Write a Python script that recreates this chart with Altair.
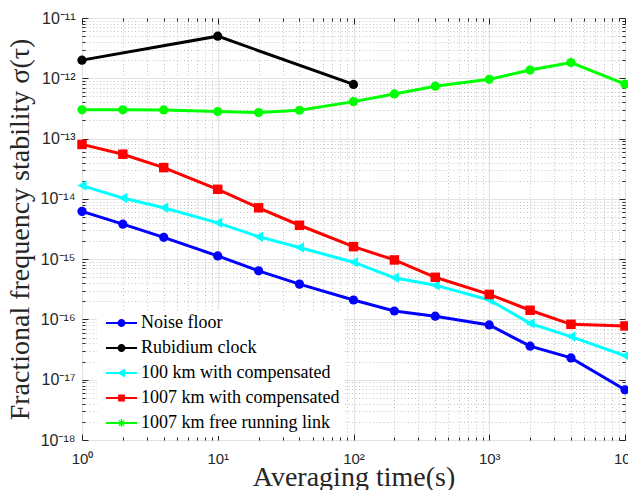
import math
import altair as alt
import pandas as pd

# ---------------- data ----------------
series = ["Noise floor", "Rubidium clock", "100 km with compensated",
          "1007 km with compensated", "1007 km free running link"]
colors = ["#0000ff", "#000000", "#00ffff", "#ff0000", "#00ff00"]

tau = [1, 2, 4, 10, 20, 40, 100, 200, 400, 1000, 2000, 4000, 10000]
tau_rb = [1, 10, 100]

noise_floor = [6.2e-15, 3.8e-15, 2.3e-15, 1.13e-15, 6.4e-16, 3.85e-16, 2.1e-16,
               1.38e-16, 1.13e-16, 8.1e-17, 3.6e-17, 2.3e-17, 6.8e-18]
rubidium = [2.0e-12, 5.0e-12, 7.9e-13]
comp_100 = [1.66e-14, 1.03e-14, 7.1e-15, 4.0e-15, 2.36e-15, 1.56e-15, 8.9e-16,
            4.9e-16, 3.7e-16, 2.1e-16, 8.6e-17, 5.2e-17, 2.5e-17]
comp_1007 = [8.0e-14, 5.5e-14, 3.3e-14, 1.44e-14, 7.1e-15, 3.65e-15, 1.61e-15,
             9.7e-16, 5.0e-16, 2.6e-16, 1.42e-16, 8.3e-17, 7.8e-17]
free_1007 = [3.0e-13, 3.0e-13, 2.98e-13, 2.8e-13, 2.7e-13, 2.95e-13, 4.1e-13,
             5.5e-13, 7.4e-13, 9.6e-13, 1.37e-12, 1.82e-12, 8.0e-13]

x_ticks_major = [1, 10, 100, 1000, 10000]
y_ticks_major = [1e-18, 1e-17, 1e-16, 1e-15, 1e-14, 1e-13, 1e-12, 1e-11]

rows = []
for name, xs, ys in [(series[0], tau, noise_floor), (series[1], tau_rb, rubidium),
                     (series[2], tau, comp_100), (series[3], tau, comp_1007),
                     (series[4], tau, free_1007)]:
    for t, v in zip(xs, ys):
        rows.append({"series": name, "tau": t, "sigma": v})
df = pd.DataFrame(rows)

x_vals = [m * d for d in x_ticks_major[:-1] for m in range(1, 10)] + [x_ticks_major[-1]]
y_vals = [m * d for d in y_ticks_major[:-1] for m in range(1, 10)] + [y_ticks_major[-1]]

# ---------------- legend symbols (line + marker) ----------------
CX = 2.875


def line_part():
    return "M-1,-0.25H6.75V0.25H-1Z"


def circle(r=1.0):
    return (f"M{CX - r},0A{r},{r} 0 1,1 {CX + r},0"
            f"A{r},{r} 0 1,1 {CX - r},0Z")


def tri_left():
    return f"M{CX - 1.15},0L{CX + 0.9},-1.15L{CX + 0.9},1.15Z"


def square(h=0.85):
    return f"M{CX - h},{-h}H{CX + h}V{h}H{CX - h}Z"


def asterisk(L=1.0, t=0.16):
    parts = []
    for ang in [0, 45, 90, 135]:
        a = math.radians(ang)
        ca, sa = math.cos(a), math.sin(a)
        pts = [(-L, -t), (L, -t), (L, t), (-L, t)]
        rp = [(CX + x * ca - y * sa, x * sa + y * ca) for x, y in pts]
        parts.append("M" + "L".join(f"{x:.3f},{y:.3f}" for x, y in rp) + "Z")
    return "".join(parts)


legend_shapes = [line_part() + circle(), line_part() + circle(),
                 line_part() + tri_left(), line_part() + square(),
                 line_part() + asterisk()]

LOG = "log(datum.value)/LN10"
MAJOR = f"abs({LOG} - round({LOG})) < 0.001"
SUP = "['⁰','¹','²','³','⁴','⁵','⁶','⁷','⁸','⁹']"
INK = "#262626"

grid_kw = dict(
    gridColor={"condition": {"test": MAJOR, "value": "#e3e3e3"}, "value": "#b4b4b4"},
    gridDash={"condition": {"test": MAJOR, "value": [1, 0]}, "value": [1, 2.5]},
    gridWidth={"condition": {"test": MAJOR, "value": 1.2}, "value": 0.8},
)

x_axis = alt.Axis(
    values=x_vals, title="Averaging time(s)", orient="bottom",
    labelExpr=f"{MAJOR} ? '10' + {SUP}[round({LOG})] : ''",
    labelOverlap=False, labelFlush=False, labelFont="Liberation Sans", labelFontSize=15,
    labelColor=INK, labelPadding=11, ticks=False, domain=False,
    titleFont="Liberation Serif", titleFontSize=28, titleFontWeight="normal",
    titleColor=INK, titleBaseline="alphabetic", titleY=45,
    **grid_kw,
)
y_axis = alt.Axis(
    values=y_vals, title="Fractional frequency stability σ(τ)", orient="left",
    labelExpr=f"{MAJOR} ? '10⁻¹' + {SUP}[-round({LOG}) - 10] : ''",
    labelOverlap=False, labelFont="Liberation Sans", labelFontSize=16,
    labelColor=INK, labelPadding=7, ticks=False, domain=False,
    titleFont="Liberation Serif", titleFontSize=28, titleFontWeight="normal",
    titleColor=INK, titleBaseline="alphabetic", titleX=-54,
    **grid_kw,
)


def tick_axis(vals, orient):
    # tick-only axis pulled inside the frame so that the ticks point inward
    return alt.Axis(
        values=vals, orient=orient, offset=-6, title=None, labels=False, grid=False,
        domain=False, ticks=True, tickSize=6, tickColor=INK, tickWidth=1,
        tickDash={"condition": {"test": MAJOR, "value": [6, 0]}, "value": [0, 3, 3, 0]},
    )


x_scale = alt.Scale(type="log", domain=[1, 10000], nice=False)
y_scale = alt.Scale(type="log", domain=[1e-18, 1e-11], nice=False)
X = alt.X("tau:Q", scale=x_scale, axis=x_axis)
Y = alt.Y("sigma:Q", scale=y_scale, axis=y_axis)
Xn = alt.X("tau:Q", scale=x_scale, axis=None)
Yn = alt.Y("sigma:Q", scale=y_scale, axis=None)
color_scale = alt.Scale(domain=series, range=colors)

base = alt.Chart(df)

lines = base.mark_line(strokeWidth=3).encode(
    x=Xn, y=Yn, stroke=alt.Stroke("series:N", scale=color_scale, legend=None),
    detail="series:N")

circles = base.transform_filter(
    alt.FieldOneOfPredicate(field="series", oneOf=[series[0], series[1], series[4]])
).mark_point(filled=True, opacity=1, size=85, shape="circle", strokeWidth=0).encode(
    x=Xn, y=Yn, fill=alt.Fill("series:N", scale=color_scale, legend=None))

tris = base.transform_filter(alt.datum.series == series[2]).mark_point(
    filled=True, opacity=1, size=110, shape="triangle-left", strokeWidth=0).encode(
    x=Xn, y=Yn, fill=alt.Fill("series:N", scale=color_scale, legend=None))

squares = base.transform_filter(alt.datum.series == series[3]).mark_point(
    filled=True, opacity=1, size=90, shape="square", strokeWidth=0).encode(
    x=Xn, y=Yn, fill=alt.Fill("series:N", scale=color_scale, legend=None))

leg_props = dict(
    title=None, orient="none", legendX=15, legendY=292, fillColor="white",
    padding=4, labelFont="Liberation Serif", labelFontSize=18, labelColor="#000000",
    symbolSize=64, symbolStrokeWidth=0, symbolOpacity=1, rowPadding=7,
    labelOffset=22, labelLimit=400,
)

legend_layer = base.mark_point(filled=True, opacity=0).encode(
    x=X, y=Y,
    color=alt.Color("series:N", scale=color_scale, sort=series, legend=alt.Legend(**leg_props)),
    shape=alt.Shape("series:N", scale=alt.Scale(domain=series, range=legend_shapes),
                    sort=series, legend=alt.Legend(**leg_props)),
)

ticks_bl = base.mark_point(opacity=0).encode(
    x=alt.X("tau:Q", scale=x_scale, axis=tick_axis(x_vals, "bottom")),
    y=alt.Y("sigma:Q", scale=y_scale, axis=tick_axis(y_vals, "left")),
)
ticks_tr = base.mark_point(opacity=0).encode(
    x=alt.X("tau:Q", scale=x_scale, axis=tick_axis(x_vals, "top")),
    y=alt.Y("sigma:Q", scale=y_scale, axis=tick_axis(y_vals, "right")),
)

chart = alt.layer(legend_layer, ticks_bl, ticks_tr, lines, circles, tris, squares).resolve_axis(
    x="independent", y="independent"
).properties(
    width=543, height=422,
    autosize=alt.AutoSizeParams(type="none"),
    padding={"left": 74, "top": 10, "right": 3, "bottom": 50},
).configure_view(stroke=INK, strokeWidth=1).configure(background="white")

chart.save("out.html", embed_options={"renderer": "svg", "actions": False})
